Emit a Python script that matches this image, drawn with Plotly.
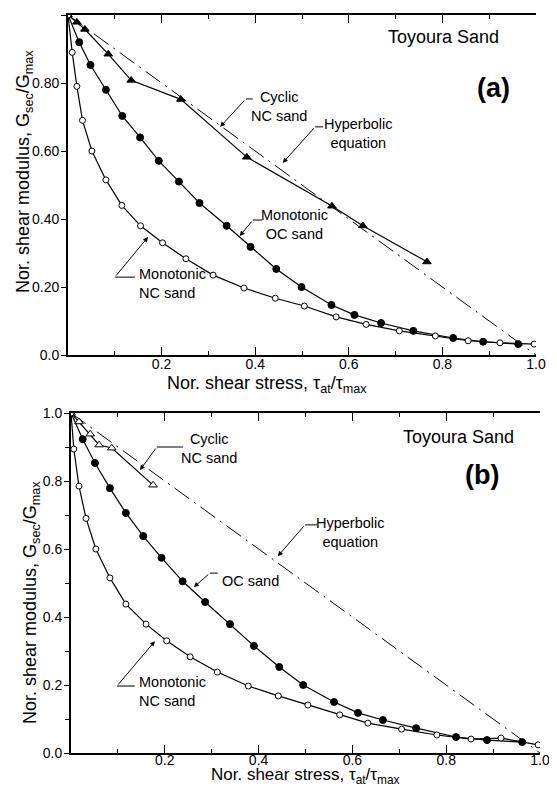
"""
Toyoura sand - normalised secant shear modulus vs normalised shear stress
=========================================================================
Two stacked panels (a) and (b): monotonic NC sand, monotonic OC sand,
cyclic NC sand and the hyperbolic equation.
"""
import plotly.graph_objects as go

# ---------------------------------------------------------------------------
# data
# ---------------------------------------------------------------------------

# panel (a)
A_NC_X = [0, 0.009, 0.019, 0.031, 0.051, 0.081, 0.115, 0.155, 0.202, 0.252, 0.31,
          0.376, 0.443, 0.505, 0.573, 0.637, 0.708, 0.785, 0.855, 0.923, 0.996]
A_NC_Y = [1.0, 0.89, 0.79, 0.69, 0.60, 0.515, 0.44, 0.38, 0.33, 0.283, 0.235,
          0.197, 0.167, 0.144, 0.112, 0.09, 0.071, 0.056, 0.042, 0.036, 0.032]

A_OC_X = [0, 0.024, 0.048, 0.081, 0.116, 0.154, 0.194, 0.237, 0.281, 0.339,
          0.39, 0.445, 0.499, 0.563, 0.612, 0.669, 0.738, 0.823, 0.887, 0.962]
A_OC_Y = [1.0, 0.92, 0.853, 0.78, 0.703, 0.64, 0.571, 0.51, 0.447, 0.38,
          0.318, 0.253, 0.2, 0.147, 0.118, 0.094, 0.071, 0.05, 0.039, 0.032]

A_CYC_X = [0, 0.019, 0.036, 0.086, 0.135, 0.241, 0.382, 0.564, 0.630, 0.767]
A_CYC_Y = [1.0, 0.979, 0.958, 0.885, 0.808, 0.752, 0.582, 0.438, 0.38, 0.274]

# panel (b)
B_NC_X = [0, 0.006, 0.017, 0.032, 0.053, 0.083, 0.117, 0.16, 0.204, 0.254, 0.312,
          0.378, 0.442, 0.505, 0.573, 0.633, 0.705, 0.78, 0.853, 0.917, 0.996]
B_NC_Y = [1.0, 0.894, 0.785, 0.69, 0.60, 0.515, 0.438, 0.379, 0.33, 0.283, 0.238,
          0.197, 0.168, 0.141, 0.112, 0.088, 0.07, 0.053, 0.041, 0.044, 0.024]

B_OC_X = [0, 0.025, 0.051, 0.083, 0.117, 0.154, 0.193, 0.238, 0.286, 0.339,
          0.39, 0.444, 0.495, 0.561, 0.612, 0.665, 0.736, 0.821, 0.887, 0.962]
B_OC_Y = [1.0, 0.923, 0.853, 0.779, 0.706, 0.638, 0.574, 0.505, 0.444, 0.379,
          0.315, 0.253, 0.2, 0.15, 0.118, 0.097, 0.073, 0.047, 0.038, 0.032]

B_CYC_X = [0, 0.017, 0.041, 0.06, 0.087, 0.175]
B_CYC_Y = [1.0, 0.974, 0.938, 0.906, 0.897, 0.788]

# hyperbolic equation: straight line between the two end points
HYP_X = [0, 1]
HYP_Y = [1, 0]

X_TICKS = [0.2, 0.4, 0.6, 0.8, 1.0]
X_LABELS = ["0.2", "0.4", "0.6", "0.8", "1.0"]
Y_TICKS = [0, 0.2, 0.4, 0.6, 0.8, 1.0]
A_Y_LABELS = ["0.0", "0.20", "0.40", "0.60", "0.80", "1.00"]
B_Y_LABELS = ["0.0", "0.2", "0.4", "0.6", "0.8", "1.0"]

FONT = "Liberation Sans, Arial, sans-serif"
INK = "black"

X_TITLE = "Nor. shear stress, τ<sub>at</sub>/τ<sub>max</sub>"
Y_TITLE = "Nor. shear modulus, G<sub>sec</sub>/G<sub>max</sub>"

# page geometry: the browser puts an 8px body margin round the plot div
PAGE_PAD = 8
FIG_W, FIG_H = 557 - PAGE_PAD, 787 - PAGE_PAD


# ---------------------------------------------------------------------------
# helpers
# ---------------------------------------------------------------------------

def _px(x, y):
    """Window pixel -> paper fraction."""
    return (x - PAGE_PAD) / FIG_W, 1 - (y - PAGE_PAD) / FIG_H


def _curve(x, y, xa, ya, symbol, size, filled):
    return go.Scatter(
        x=x, y=y, xaxis=xa, yaxis=ya,
        mode="lines+markers",
        line=dict(color=INK, width=1.2),
        marker=dict(symbol=symbol, size=size,
                    color=INK if filled else "white",
                    line=dict(color=INK, width=1)),
        showlegend=False, hoverinfo="skip",
    )


def _hyperbolic(xa, ya):
    return go.Scatter(
        x=HYP_X, y=HYP_Y, xaxis=xa, yaxis=ya, mode="lines",
        line=dict(color=INK, width=1, dash="18px,6px,2px,6px"),
        showlegend=False, hoverinfo="skip",
    )


def _xaxis(domain, anchor, standoff=-5):
    return dict(
        domain=domain, anchor=anchor, range=[0, 1],
        tickmode="array", tickvals=X_TICKS, ticktext=X_LABELS,
        ticks="inside", ticklen=8, tickwidth=1, tickcolor=INK,
        minor=dict(tickmode="array", tickvals=[0.1, 0.3, 0.5, 0.7, 0.9],
                   ticks="inside", ticklen=4, tickwidth=1, tickcolor=INK),
        showline=True, linecolor=INK, linewidth=1.8, mirror="ticks",
        showgrid=False, zeroline=False, automargin=False,
        ticklabelstandoff=standoff,
        tickfont=dict(family=FONT, size=14, color=INK),
    )


def _yaxis(domain, anchor, labels, minor):
    ax = dict(
        domain=domain, anchor=anchor, range=[0, 1],
        tickmode="array", tickvals=Y_TICKS, ticktext=labels,
        ticks="outside", ticklen=5, tickwidth=1, tickcolor=INK,
        showline=True, linecolor=INK, linewidth=1.8, mirror=False,
        showgrid=False, zeroline=False, automargin=False,
        ticklabelstandoff=-1,
        tickfont=dict(family=FONT, size=14, color=INK),
    )
    if minor:
        ax["minor"] = dict(tickmode="array", tickvals=[0.1, 0.3, 0.5, 0.7, 0.9],
                           ticks="outside", ticklen=4, tickwidth=1, tickcolor=INK)
    return ax


def _right_axis(overlay, anchor, ticks):
    return dict(
        overlaying=overlay, anchor=anchor, side="right", range=[0, 1],
        tickmode="array", tickvals=ticks, showticklabels=False,
        ticks="inside", ticklen=6, tickwidth=1, tickcolor=INK,
        showline=True, linecolor=INK, linewidth=1.8,
        showgrid=False, zeroline=False,
    )


def _label(xref, yref, x, y, text, size=14.5, xanchor="center", align="center", bold=False):
    return dict(
        xref=xref, yref=yref, x=x, y=y, text=f"<b>{text}</b>" if bold else text,
        showarrow=False, xanchor=xanchor, yanchor="middle", align=align,
        font=dict(family=FONT, size=size, color=INK),
    )


def _axis_title(px, py, text, angle=0, size=18):
    x, y = _px(px, py)
    return dict(
        xref="paper", yref="paper", x=x, y=y, text=text, textangle=angle,
        showarrow=False, xanchor="center", yanchor="middle",
        font=dict(family=FONT, size=size, color=INK),
    )


def _leader(xref, yref, tail, corner, tip):
    """Horizontal stub from the text, then a diagonal arrow to the curve."""
    shape = dict(type="line", xref=xref, yref=yref,
                 x0=tail[0], y0=tail[1], x1=corner[0], y1=corner[1],
                 line=dict(color=INK, width=1))
    arrow = dict(xref=xref, yref=yref, axref=xref, ayref=yref,
                 x=tip[0], y=tip[1], ax=corner[0], ay=corner[1], text="",
                 showarrow=True, arrowhead=2, arrowsize=1, arrowwidth=1,
                 arrowcolor=INK, standoff=0, startstandoff=0)
    return shape, arrow


# ---------------------------------------------------------------------------
# figure
# ---------------------------------------------------------------------------

fig = go.Figure()

# panel (a)
fig.add_trace(_hyperbolic("x", "y"))
fig.add_trace(_curve(A_CYC_X, A_CYC_Y, "x", "y", "triangle-up", 7.5, True))
fig.add_trace(_curve(A_OC_X, A_OC_Y, "x", "y", "circle", 7, True))
fig.add_trace(_curve(A_NC_X, A_NC_Y, "x", "y", "circle", 6, False))

# panel (b)
fig.add_trace(_hyperbolic("x2", "y2"))
fig.add_trace(_curve(B_CYC_X, B_CYC_Y, "x2", "y2", "triangle-up", 7.5, False))
fig.add_trace(_curve(B_OC_X, B_OC_Y, "x2", "y2", "circle", 7, True))
fig.add_trace(_curve(B_NC_X, B_NC_Y, "x2", "y2", "circle", 6, False))

a_x0, a_y0 = _px(68, 355)
a_x1, a_y1 = _px(536, 15)
b_x0, b_y0 = _px(71, 753)
b_x1, b_y1 = _px(540, 413)

annotations = [
    _label("x", "y", 0.803, 0.935, "Toyoura Sand", size=18),
    _label("x", "y", 0.910, 0.785, "(a)", size=27, bold=True),
    _label("x", "y", 0.451, 0.732, "Cyclic<br>NC sand"),
    _label("x", "y", 0.620, 0.651, "Hyperbolic<br>equation"),
    _label("x", "y", 0.485, 0.385, "Monotonic<br>OC sand"),
    _label("x", "y", 0.147, 0.209, "Monotonic<br>NC sand", xanchor="left", align="left"),
    _label("x2", "y2", 0.827, 0.929, "Toyoura Sand", size=18),
    _label("x2", "y2", 0.876, 0.818, "(b)", size=27, bold=True),
    _label("x2", "y2", 0.294, 0.897, "Cyclic<br>NC sand"),
    _label("x2", "y2", 0.597, 0.650, "Hyperbolic<br>equation"),
    _label("x2", "y2", 0.382, 0.506, "OC sand"),
    _label("x2", "y2", 0.141, 0.182, "Monotonic<br>NC sand", xanchor="left", align="left"),
    _axis_title(267, 384, X_TITLE),
    _axis_title(305, 776, X_TITLE, size=17),
    _axis_title(24, 172, Y_TITLE, angle=-90),
    _axis_title(31, 603, Y_TITLE, angle=-90),
]

shapes = []
for ref, pts in [
    (("x", "y"), ((0.395, 0.753), (0.380, 0.753), (0.325, 0.671))),
    (("x", "y"), ((0.545, 0.671), (0.528, 0.671), (0.459, 0.565))),
    (("x", "y"), ((0.415, 0.397), (0.395, 0.397), (0.367, 0.350))),
    (("x", "y"), ((0.143, 0.229), (0.100, 0.229), (0.171, 0.347))),
    (("x2", "y2"), ((0.239, 0.900), (0.183, 0.900), (0.147, 0.832))),
    (("x2", "y2"), ((0.525, 0.671), (0.499, 0.671), (0.441, 0.579))),
    (("x2", "y2"), ((0.313, 0.529), (0.296, 0.529), (0.262, 0.488))),
    (("x2", "y2"), ((0.136, 0.197), (0.098, 0.197), (0.179, 0.329))),
]:
    s, a = _leader(ref[0], ref[1], *pts)
    shapes.append(s)
    annotations.append(a)

fig.update_layout(
    width=FIG_W, height=FIG_H,
    margin=dict(l=0, r=0, t=0, b=0),
    paper_bgcolor="white", plot_bgcolor="white",
    font=dict(family=FONT, color=INK),
    xaxis=_xaxis([a_x0, a_x1], "y"),
    yaxis=_yaxis([a_y0, a_y1], "x", A_Y_LABELS, minor=False),
    xaxis2=_xaxis([b_x0, b_x1], "y2", standoff=-7),
    yaxis2=_yaxis([b_y0, b_y1], "x2", B_Y_LABELS, minor=True),
    yaxis3=_right_axis("y", "x", [0.2, 0.4, 0.6, 0.8]),
    yaxis4=_right_axis("y2", "x2", [0.1, 0.2, 0.3, 0.4, 0.5, 0.6, 0.7, 0.8, 0.9]),
    annotations=annotations,
    shapes=shapes,
)

fig.write_html("out.html")
